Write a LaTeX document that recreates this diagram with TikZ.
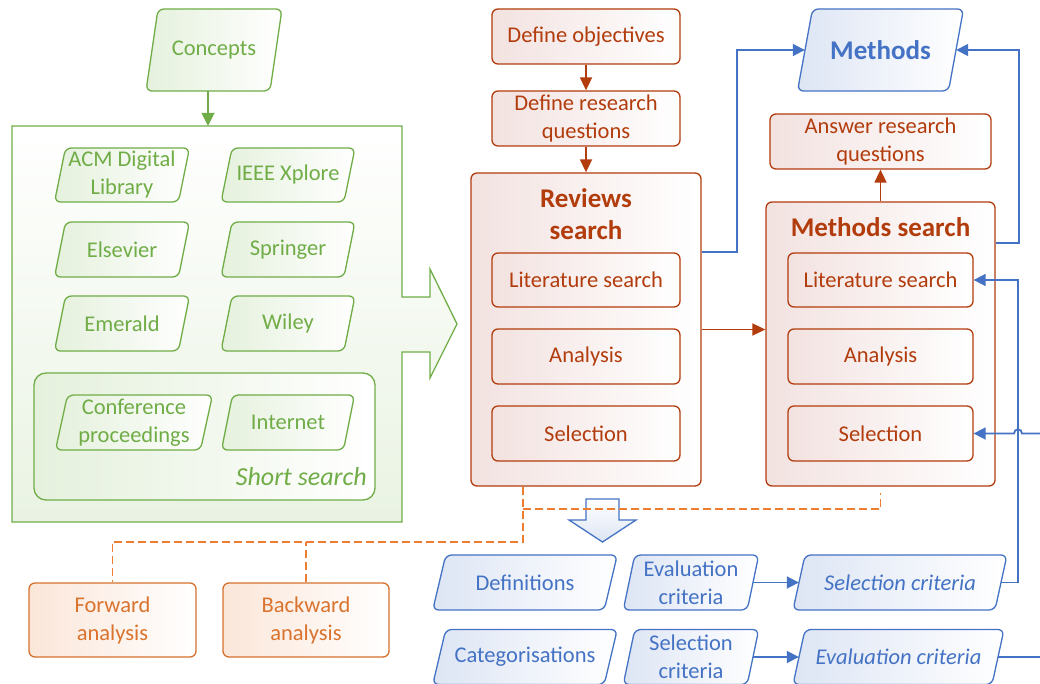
\documentclass[tikz,border=0pt]{standalone}
\usepackage{fontspec}
\setmainfont{Carlito}
\usetikzlibrary{arrows.meta,calc}
\definecolor{gC}{HTML}{70AD47}
\definecolor{gT}{HTML}{E2EFD9}
\definecolor{rC}{HTML}{B23C0C}
\definecolor{rT}{HTML}{F2E2E0}
\definecolor{oC}{HTML}{ED7D31}
\definecolor{oT}{HTML}{FBE6D9}
\definecolor{bC}{HTML}{4472C4}
\definecolor{bT}{HTML}{DDE5F4}
\newcommand\fs{\fontsize{22.5}{28}\selectfont}
\newcommand\fb{\fontsize{27}{32}\selectfont\bfseries}
% parallelogram: #1 shape style, #2 text style, #3 name, #4 cx, #5 cy, #6 width, #7 height, #8 skew, #9 text
\newcommand\pgram[9]{%
  \path[#1] ({#4-#6/2+#8/2},{#5-#7/2}) -- ({#4+#6/2+#8/2},{#5-#7/2}) -- ({#4+#6/2-#8/2},{#5+#7/2}) -- ({#4-#6/2-#8/2},{#5+#7/2}) -- cycle;
  \node[#2, minimum width=#6, minimum height=#7] (#3) at (#4,#5) {#9};
}
\begin{document}
\begin{tikzpicture}[x=1pt,y=-1pt,
  gshape/.style={draw=gC, line width=1.3pt, rounded corners=6pt, left color=gT!90, middle color=white, right color=white},
  gtext/.style={text=gC, font=\fs, align=center, inner sep=0pt},
  bshape/.style={draw=bC, line width=1.3pt, rounded corners=6pt, left color=bT, middle color=white, right color=white},
  btext/.style={text=bC, font=\fs, align=center, inner sep=0pt},
  rbox/.style={draw=rC, line width=1.3pt, rounded corners=6pt, left color=rT, middle color=white, right color=white, text=rC, font=\fs, align=center, inner sep=0pt},
  obox/.style={draw=oC!90!black, line width=1.3pt, rounded corners=6pt, left color=oT, middle color=white, right color=white, text=oC!92!black, font=\fs, align=center, inner sep=0pt},
  rarrow/.style={draw=rC, line width=1.8pt, -{Triangle[length=13pt,width=12pt]}},
  garrow/.style={draw=gC, line width=1.8pt, -{Triangle[length=13pt,width=13pt]}},
  barrow/.style={draw=bC, line width=1.8pt, -{Triangle[length=12pt,width=12pt]}},
  bline/.style={draw=bC, line width=1.8pt},
  dline/.style={draw=oC, line width=1.6pt, dash pattern=on 8pt off 4pt}
]
\useasboundingbox (0,0) rectangle (1040,684);

% ---------- green part ----------
\pgram{gshape}{gtext}{concepts}{214}{50}{124}{82}{12}{Concepts}
\path[draw=gC, line width=1.3pt, top color=white, bottom color=gT!75]
  (12,126) -- (402,126) -- (402,297) -- (430,297) -- (430,269) -- (457,324)
  -- (430,378) -- (430,352) -- (402,352) -- (402,522) -- (12,522) -- cycle;
\node[minimum width=390, minimum height=396, inner sep=0pt] (sources) at (207,324) {};
\draw[garrow] ([xshift=-6pt]concepts.south) -- ([xshift=-6pt]concepts.south |- sources.north);

\pgram{gshape}{gtext}{acm}{122}{175}{124}{54}{11}{ACM Digital\\Library}
\pgram{gshape}{gtext}{ieee}{288}{175}{123}{54}{11}{IEEE Xplore}
\pgram{gshape}{gtext}{elsevier}{122}{249.5}{124}{55}{11}{Elsevier}
\pgram{gshape}{gtext}{springer}{288}{249.5}{123}{55}{11}{Springer}
\pgram{gshape}{gtext}{emerald}{122}{323.5}{124}{55}{11}{Emerald}
\pgram{gshape}{gtext}{wiley}{288}{323.5}{123}{55}{11}{Wiley}
\node[draw=gC, line width=1.3pt, rounded corners=12pt, left color=gT!90, middle color=white, right color=white,
  minimum width=341, minimum height=127, inner sep=0pt] (short) at (204.5,436.5) {};
\pgram{gshape}{gtext}{conf}{134}{422.5}{145}{55}{12}{Conference\\proceedings}
\pgram{gshape}{gtext}{internet}{288}{422.5}{122}{55}{11}{Internet}
\node[gtext, font=\fontsize{26}{30}\selectfont\itshape, anchor=east] (shortlbl) at (367,477) {Short search};

% ---------- red part ----------
\node[rbox, minimum width=188, minimum height=55] (obj) at (586,36.5) {Define objectives};
\node[rbox, minimum width=188, minimum height=55] (drq) at (586,118.5) {Define research\\questions};
\node[rbox, minimum width=230, minimum height=313] (rev) at (586,329.5) {};
\node[text=rC, font=\fb, align=center, inner sep=0pt] (revtitle) at (586,214) {Reviews\\search};
\node[rbox, minimum width=188, minimum height=54] (revlit) at (586,280) {Literature search};
\node[rbox, minimum width=188, minimum height=55] (revana) at (586,356.5) {Analysis};
\node[rbox, minimum width=188, minimum height=55] (revsel) at (586,433.5) {Selection};

\node[rbox, minimum width=221, minimum height=55] (ans) at (880.5,141.5) {Answer research\\questions};
\node[rbox, minimum width=229, minimum height=284] (ms) at (880.5,344) {};
\node[text=rC, font=\fb, inner sep=0pt] (mstitle) at (880.5,227) {Methods search};
\node[rbox, minimum width=185, minimum height=54] (mslit) at (880.5,280) {Literature search};
\node[rbox, minimum width=185, minimum height=55] (msana) at (880.5,356.5) {Analysis};
\node[rbox, minimum width=185, minimum height=55] (mssel) at (880.5,433.5) {Selection};

\draw[rarrow] (obj.south) -- (drq.north);
\draw[rarrow] (drq.south) -- (rev.north);
\draw[rarrow] (ms.north) -- (ans.south);
\draw[rarrow] (rev.east) -- (rev.east -| ms.west);

% ---------- blue part ----------
\pgram{bshape}{btext, font=\fb}{methods}{880.5}{50}{151}{82}{15}{Methods}
\draw[barrow] (rev.east |- revlit.north) -- ++(35,0) |- (methods.west);
\draw[barrow] ([yshift=-42pt]ms.north east) -- ++(23,0) |- (methods.east);

\path[draw=bC, line width=1.3pt, top color=white, bottom color=bT]
  (586,499) -- (619,499) -- (619,520) -- (636,520) -- (602.5,542) -- (569,520) -- (586,520) -- cycle;

\pgram{bshape}{btext}{defs}{525}{582.5}{171.5}{55}{13}{Definitions}
\pgram{bshape}{btext}{ev1}{691}{582.5}{124}{55}{11.5}{Evaluation\\criteria}
\pgram{bshape}{btext, font=\fs\itshape}{crit1}{900}{582.5}{202}{55}{12}{Selection criteria}
\pgram{bshape}{btext}{cats}{525}{657}{171.5}{55}{13}{Categorisations}
\pgram{bshape}{btext}{sel2}{691}{657}{124}{55}{11.5}{Selection\\criteria}
\pgram{bshape}{btext, font=\fs\itshape}{ev2}{898.5}{657}{199}{55}{12}{Evaluation criteria}

\draw[barrow] (ev1.east) -- (crit1.west);
\draw[barrow] (sel2.east) -- (ev2.west);
\draw[barrow] (crit1.east) -- (1018,582.5) |- (mslit.east);
\coordinate (selin) at (1040,433.5);
\draw[barrow] (selin) -- (1022,433.5) .. controls (1022,428) and (1014,428) .. (1014,433.5) -- (mssel.east);
\coordinate (evout) at (1040,657);
\draw[bline] (ev2.east) -- (evout);

% ---------- orange part ----------
\node[obox, minimum width=167, minimum height=74] (fwd) at (112.5,620) {Forward\\analysis};
\node[obox, minimum width=166, minimum height=74] (bwd) at (306,620) {Backward\\analysis};
\coordinate (j1) at (523,542);
\coordinate (j2) at (523,509);
\draw[dline] (rev.south -| j1) -- (j1) -| (fwd.north);
\draw[dline] (bwd.north) -- (bwd.north |- j1);
\draw[dline] (j2) -| ([yshift=-6pt]ms.south);
\end{tikzpicture}
\end{document}
